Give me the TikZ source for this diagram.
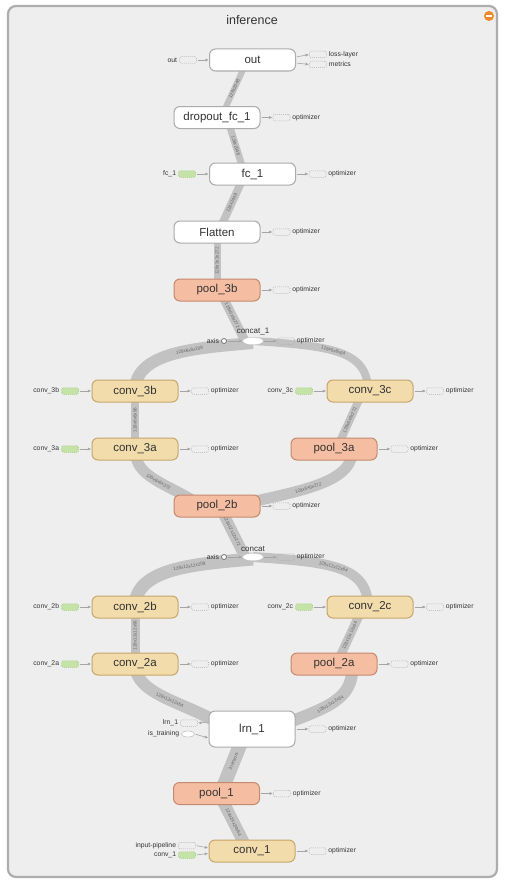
\documentclass[tikz,border=0pt]{standalone}
\usepackage{fontspec}
\setmainfont{Liberation Sans}
\usetikzlibrary{arrows.meta,shapes.geometric}
\definecolor{panelfill}{HTML}{EEEEEE}
\definecolor{panelline}{HTML}{ADADAD}
\definecolor{opline}{HTML}{ABABAB}
\definecolor{convfill}{HTML}{F2DCAB}
\definecolor{convline}{HTML}{C6A66B}
\definecolor{poolfill}{HTML}{F5BEA2}
\definecolor{poolline}{HTML}{C5896E}
\definecolor{bandgray}{HTML}{C2C2C2}
\definecolor{linkgray}{HTML}{A5A5A5}
\definecolor{stubline}{HTML}{B0B0B0}
\definecolor{stubgreen}{HTML}{C5E3A6}
\definecolor{stubgreenline}{HTML}{9CC57A}
\definecolor{collapsefill}{HTML}{F08A24}
\definecolor{labeltext}{HTML}{333333}
\pgfdeclarelayer{base}
\pgfdeclarelayer{bands}
\pgfsetlayers{base,bands,main}

\tikzset{
  opnode/.style={draw=opline, fill=white, line width=1pt, rounded corners=6pt,
    minimum width=86pt, minimum height=22pt, inner sep=0pt, text=labeltext,
    font=\fontsize{11.5}{13}\selectfont},
  convnode/.style={opnode, fill=convfill, draw=convline},
  poolnode/.style={opnode, fill=poolfill, draw=poolline},
  stubbox/.style={draw=stubline, dash pattern=on 1pt off 1pt, line width=0.5pt,
    rounded corners=2pt, minimum width=17pt, minimum height=6.5pt, inner sep=0pt},
  greenstub/.style={stubbox, fill=stubgreen, draw=stubgreenline},
  stublabel/.style={font=\fontsize{6.8}{8}\selectfont, text=labeltext, inner sep=0.5pt},
  rlab/.style={label={[stublabel, label distance=1.5pt]right:#1}},
  llab/.style={label={[stublabel, label distance=1.5pt]left:#1}},
  link/.style={draw=linkgray, line width=0.6pt, shorten <=1pt, shorten >=0.5pt,
    -{Triangle[length=3.2pt,width=2.6pt]}},
  band/.style={draw=bandgray, line width=#1},
  elab/.style={font=\fontsize{4.6}{5}\selectfont, text=black!60, sloped, inner sep=0.5pt},
  joint/.style={ellipse, fill=white, minimum width=20pt, minimum height=7pt, inner sep=0pt},
  jointlabel/.style={font=\fontsize{8}{9}\selectfont, text=labeltext, inner sep=0.5pt, label distance=1.5pt},
  axisdot/.style={circle, draw=black!55, fill=white, line width=0.8pt, minimum size=5pt, inner sep=0pt},
}

\begin{document}
\begin{tikzpicture}[x=1pt, y=-1pt]
\useasboundingbox (0,0) rectangle (504,883);
\begin{pgfonlayer}{base}
  \fill[white] (0,0) rectangle (504,883);
  \draw[fill=panelfill, draw=panelline, line width=2.2pt, rounded corners=8pt] (8,6) rectangle (497,877);
\end{pgfonlayer}

% title and collapse button
\node[font=\fontsize{12.5}{14}\selectfont, text=labeltext] (title) at (252,20) {inference};
\node[circle, fill=collapsefill, minimum size=10pt, inner sep=0pt] (collapsebtn) at (489,16)
  {\textcolor{white}{\rule[-0.8pt]{6pt}{1.6pt}}};

% operation nodes
\node[opnode] (out) at (252.5,60) {out};
\node[opnode] (dropout) at (217,117.5) {dropout\_fc\_1};
\node[opnode] (fc1) at (252.5,174) {fc\_1};
\node[opnode] (flatten) at (217,232) {Flatten};
\node[poolnode] (pool3b) at (217,290) {pool\_3b};
\node[joint, label={[jointlabel]above:concat\_1}] (concat1) at (253,341) {};
\node[convnode] (conv3b) at (135,391) {conv\_3b};
\node[convnode] (conv3c) at (370,391) {conv\_3c};
\node[convnode] (conv3a) at (135,449) {conv\_3a};
\node[poolnode] (pool3a) at (334,449) {pool\_3a};
\node[poolnode] (pool2b) at (217,506) {pool\_2b};
\node[joint, label={[jointlabel]above:concat}] (concat) at (253,557) {};
\node[convnode] (conv2b) at (135,607) {conv\_2b};
\node[convnode] (conv2c) at (370,607) {conv\_2c};
\node[convnode] (conv2a) at (135,664) {conv\_2a};
\node[poolnode] (pool2a) at (334,664) {pool\_2a};
\node[opnode, minimum height=36pt] (lrn1) at (252,729) {lrn\_1};
\node[poolnode] (pool1) at (216.5,793.5) {pool\_1};
\node[convnode] (conv1) at (252,851) {conv\_1};

% data-flow bands
\begin{pgfonlayer}{bands}
  \draw[band=6pt] ([xshift=-5pt]out.center) -- node[elab]{128x2048} ([xshift=4pt]dropout.center);
  \draw[band=7pt] ([xshift=10pt]dropout.center) -- node[elab]{128x2048} ([xshift=-8pt]fc1.center);
  \draw[band=8pt] ([xshift=1.5pt]flatten.center) -- node[elab]{128x2448} ([xshift=-7.5pt]fc1.center);
  \draw[band=7pt] (pool3b.center) -- node[elab]{128x3x3x272} (flatten.center);
  \draw[band=9pt] ([xshift=2.5pt]pool3b.center) -- node[elab]{128x6x6x272} ([xshift=-8pt]concat1.center);
  \draw[band=12pt] (conv3b.center) .. controls (135,352) and (195,348) .. node[elab, pos=0.62]{128x6x6x208} ([yshift=-2pt]concat1.center);
  \draw[band=8pt] (concat1.center) .. controls (330,346) and (368,350) .. node[elab, pos=0.45]{128x6x6x64} ([xshift=-2pt]conv3c.center);
  \draw[band=8pt] (conv3a.center) -- node[elab]{128x6x6x96} (conv3b.center);
  \draw[band=11pt] (conv3a.center) .. controls (135,478) and (165,482) .. node[elab, pos=0.55]{128x6x6x272} ([xshift=-15pt]pool2b.center);
  \draw[band=11pt] ([xshift=18pt]pool2b.center) .. controls (290,492) and (355,485) .. node[elab, pos=0.45]{128x6x6x272} ([xshift=18pt]pool3a.center);
  \draw[band=8pt] ([xshift=2.5pt]pool3a.center) -- node[elab]{128x6x6x272} ([xshift=-7pt]conv3c.center);
  \draw[band=11pt] ([xshift=2.5pt]pool2b.center) -- node[elab]{128x12x12x272} ([xshift=-8pt]concat.center);
  \draw[band=13pt] (conv2b.center) .. controls (135,568) and (195,564) .. node[elab, pos=0.62]{128x12x12x208} ([yshift=-2pt]concat.center);
  \draw[band=10pt] (concat.center) .. controls (330,562) and (368,566) .. node[elab, pos=0.45]{128x12x12x64} ([xshift=-2pt]conv2c.center);
  \draw[band=9pt] (conv2a.center) -- node[elab]{128x12x12x96} (conv2b.center);
  \draw[band=12pt] (conv2a.center) .. controls (135,695) and (185,702) .. node[elab, pos=0.55]{128x12x12x64} ([xshift=-30pt, yshift=4pt]lrn1.center);
  \draw[band=12pt] ([xshift=30pt, yshift=4pt]lrn1.center) .. controls (325,708) and (355,700) .. node[elab, pos=0.45]{128x12x12x64} ([xshift=18pt]pool2a.center);
  \draw[band=9pt] ([xshift=2.5pt]pool2a.center) -- node[elab]{128x12x12x64} ([xshift=-7pt]conv2c.center);
  \draw[band=14pt] ([xshift=4pt]pool1.center) -- node[elab]{3 tensors} ([xshift=-5.5pt]lrn1.center);
  \draw[band=12pt] ([xshift=2.5pt]pool1.center) -- node[elab]{128x24x24x64} ([xshift=-4pt]conv1.center);
\end{pgfonlayer}

% stubs: out
\node[stubbox, llab=out] (outin) at (188,60) {};
\node[stubbox, rlab=loss-layer] (outloss) at (318,54.5) {};
\node[stubbox, rlab=metrics] (outmetrics) at (318,64.5) {};
\draw[link] (outin) -- (out);
\draw[link] ([yshift=3pt]out.east) -- (outloss.west);
\draw[link] ([yshift=-3pt]out.east) -- (outmetrics.west);

% stubs: dense part
\node[stubbox, rlab=optimizer] (dropoutopt) at (281.5,117.5) {};
\draw[link] (dropout) -- (dropoutopt);
\node[greenstub, llab=fc\_1] (fc1in) at (187,174) {};
\draw[link] (fc1in) -- (fc1);
\node[stubbox, rlab=optimizer] (fc1opt) at (317.5,174) {};
\draw[link] (fc1) -- (fc1opt);
\node[stubbox, rlab=optimizer] (flattenopt) at (281.5,232) {};
\draw[link] (flatten) -- (flattenopt);
\node[stubbox, rlab=optimizer] (pool3bopt) at (281.5,290) {};
\draw[link] (pool3b) -- (pool3bopt);

% stubs: block 3
\node[axisdot, llab=axis] (axis1) at (224,341) {};
\draw[link] (axis1) -- (concat1);
\node[stubbox, rlab=optimizer] (concat1opt) at (286,341) {};
\draw[link] (concat1) -- (concat1opt);
\node[greenstub, llab=conv\_3b] (conv3bin) at (70,391) {};
\draw[link] (conv3bin) -- (conv3b);
\node[stubbox, rlab=optimizer] (conv3bopt) at (200,391) {};
\draw[link] (conv3b) -- (conv3bopt);
\node[greenstub, llab=conv\_3c] (conv3cin) at (304,391) {};
\draw[link] (conv3cin) -- (conv3c);
\node[stubbox, rlab=optimizer] (conv3copt) at (435,391) {};
\draw[link] (conv3c) -- (conv3copt);
\node[greenstub, llab=conv\_3a] (conv3ain) at (70,449) {};
\draw[link] (conv3ain) -- (conv3a);
\node[stubbox, rlab=optimizer] (conv3aopt) at (200,449) {};
\draw[link] (conv3a) -- (conv3aopt);
\node[stubbox, rlab=optimizer] (pool3aopt) at (399.5,449) {};
\draw[link] (pool3a) -- (pool3aopt);
\node[stubbox, rlab=optimizer] (pool2bopt) at (281.5,506) {};
\draw[link] (pool2b) -- (pool2bopt);

% stubs: block 2
\node[axisdot, llab=axis] (axis0) at (224,557) {};
\draw[link] (axis0) -- (concat);
\node[stubbox, rlab=optimizer] (concatopt) at (286,557) {};
\draw[link] (concat) -- (concatopt);
\node[greenstub, llab=conv\_2b] (conv2bin) at (70,607) {};
\draw[link] (conv2bin) -- (conv2b);
\node[stubbox, rlab=optimizer] (conv2bopt) at (200,607) {};
\draw[link] (conv2b) -- (conv2bopt);
\node[greenstub, llab=conv\_2c] (conv2cin) at (304,607) {};
\draw[link] (conv2cin) -- (conv2c);
\node[stubbox, rlab=optimizer] (conv2copt) at (435,607) {};
\draw[link] (conv2c) -- (conv2copt);
\node[greenstub, llab=conv\_2a] (conv2ain) at (70,664) {};
\draw[link] (conv2ain) -- (conv2a);
\node[stubbox, rlab=optimizer] (conv2aopt) at (200,664) {};
\draw[link] (conv2a) -- (conv2aopt);
\node[stubbox, rlab=optimizer] (pool2aopt) at (399.5,664) {};
\draw[link] (pool2a) -- (pool2aopt);

% stubs: lrn_1, pool_1, conv_1
\node[stubbox, llab=lrn\_1] (lrnout) at (189,723) {};
\draw[link] ([yshift=7pt]lrn1.west) -- (lrnout.east);
\node[ellipse, fill=white, draw=stubline, line width=0.4pt, minimum width=13pt, minimum height=6pt,
  inner sep=0pt, llab=is\_training] (istrain) at (188,734) {};
\draw[link] (istrain.east) -- ([yshift=-9pt]lrn1.west);
\node[stubbox, rlab=optimizer] (lrn1opt) at (317.5,729) {};
\draw[link] (lrn1) -- (lrn1opt);
\node[stubbox, rlab=optimizer] (pool1opt) at (282,793.5) {};
\draw[link] (pool1) -- (pool1opt);
\node[stubbox, llab=input-pipeline] (pipein) at (187,845.5) {};
\draw[link] (pipein.east) -- ([yshift=3pt]conv1.west);
\node[greenstub, llab=conv\_1] (conv1in) at (187,855) {};
\draw[link] (conv1in.east) -- ([yshift=-2.5pt]conv1.west);
\node[stubbox, rlab=optimizer] (conv1opt) at (317.5,851) {};
\draw[link] (conv1) -- (conv1opt);
\end{tikzpicture}
\end{document}
